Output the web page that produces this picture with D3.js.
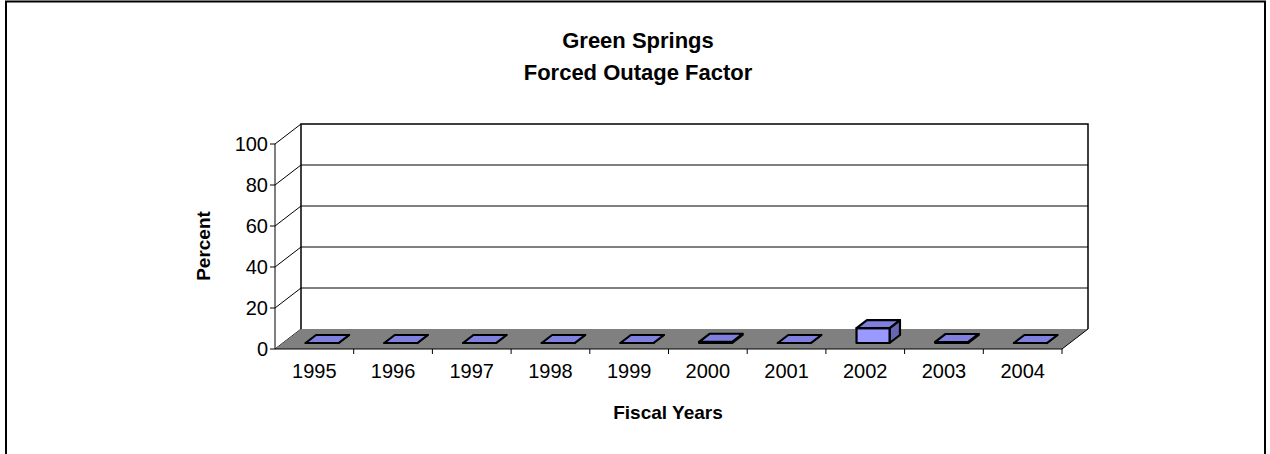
<!DOCTYPE html>
<html><head><meta charset="utf-8">
<script src="https://cdn.jsdelivr.net/npm/d3@7"></script>
<style>body{margin:0;background:#fff}svg{display:block;font-family:Arial,"Liberation Sans",sans-serif}</style>
</head><body>
<svg id="c" width="1270" height="454"></svg>
<script>
const titleLines = ["Green Springs", "Forced Outage Factor"];
const categories = ["1995","1996","1997","1998","1999","2000","2001","2002","2003","2004"];
const values = [0, 0, 0, 0, 0, 0.6, 0, 7.3, 0.5, 0];
const yTicks = [0, 20, 40, 60, 80, 100];
const yLabel = "Percent";
const xLabel = "Fiscal Years";

const svg = d3.select("#c");
const DX = 26, DY = -20; // depth offset
const x = d3.scaleBand().domain(categories).range([275, 1062]).paddingInner(0.58).paddingOuter(0.29);
const xEdge = d3.scaleLinear().domain([0, categories.length]).range([275, 1062]);
const y = d3.scaleLinear().domain([0, 100]).range([349, 144]);

// frame
svg.append("rect").attr("x", 6).attr("y", 1.5).attr("width", 1259).attr("height", 470)
  .attr("fill", "#fff").attr("stroke", "#000").attr("stroke-width", 2);

// title
svg.append("g").selectAll("text").data(titleLines).join("text")
  .attr("x", 638).attr("y", (d, i) => 48 + i * 32).attr("text-anchor", "middle")
  .attr("font-size", 22).attr("font-weight", "bold").text(d => d);

const x0 = xEdge(0), x1 = xEdge(categories.length);
// back wall
svg.append("rect").attr("x", x0 + DX).attr("y", y(100) + DY).attr("width", x1 - x0).attr("height", y(0) - y(100))
  .attr("fill", "#fff");
// gridlines on back wall
svg.append("g").selectAll("line").data(yTicks.filter(t => t > 0 && t < 100)).join("line")
  .attr("x1", x0 + DX).attr("x2", x1 + DX).attr("y1", d => y(d) + DY).attr("y2", d => y(d) + DY)
  .attr("stroke", "#000").attr("stroke-width", 1);
// back wall border
svg.append("path")
  .attr("d", `M${x0 + DX},${y(0) + DY}V${y(100) + DY}H${x1 + DX}V${y(0) + DY}`)
  .attr("fill", "none").attr("stroke", "#000").attr("stroke-width", 1.5);
// side wall diagonals
svg.append("g").selectAll("line").data(yTicks).join("line")
  .attr("x1", x0).attr("y1", d => y(d)).attr("x2", x0 + DX).attr("y2", d => y(d) + DY)
  .attr("stroke", "#000").attr("stroke-width", 1);

// floor
svg.append("path")
  .attr("d", `M${x0},${y(0)}L${x1},${y(0)}L${x1 + DX},${y(0) + DY}L${x0 + DX},${y(0) + DY}Z`)
  .attr("fill", "#808080").attr("stroke", "none");
svg.append("path")
  .attr("d", `M${x0},${y(0)}L${x1},${y(0)}L${x1 + DX},${y(0) + DY}`)
  .attr("fill", "none").attr("stroke", "#000").attr("stroke-width", 1);

// y axis
svg.append("line").attr("x1", x0).attr("x2", x0).attr("y1", y(0)).attr("y2", y(100)).attr("stroke", "#000");
const yg = svg.append("g");
yg.selectAll("line").data(yTicks).join("line")
  .attr("x1", x0 - 5).attr("x2", x0).attr("y1", d => y(d)).attr("y2", d => y(d)).attr("stroke", "#000");
yg.selectAll("text").data(yTicks).join("text")
  .attr("x", x0 - 7).attr("y", d => y(d)).attr("dy", "0.35em").attr("text-anchor", "end")
  .attr("font-size", 20).text(d => d);

// x ticks
svg.append("g").selectAll("line").data(d3.range(1, categories.length + 1)).join("line")
  .attr("x1", d => xEdge(d)).attr("x2", d => xEdge(d)).attr("y1", y(0)).attr("y2", y(0) + 5).attr("stroke", "#000");
svg.append("g").selectAll("text").data(categories).join("text")
  .attr("x", d => x(d) + x.bandwidth() / 2).attr("y", 371).attr("dy", "0.35em").attr("text-anchor", "middle")
  .attr("font-size", 20).text(d => d);

// bars
const f0 = 0.3, f1 = 0.7;
const bars = svg.append("g").attr("stroke", "#000").attr("stroke-width", 2.2).attr("stroke-linejoin", "round");
categories.forEach((c, i) => {
  const v = values[i];
  const bl = x(c) + DX * f0, br = bl + x.bandwidth();
  const by = y(0) + DY * f0, ty = y(v) + DY * f0;
  const ox = DX * (f1 - f0), oy = DY * (f1 - f0);
  const g = bars.append("g");
  g.append("path").attr("d", `M${br},${by}L${br + ox},${by + oy}L${br + ox},${ty + oy}L${br},${ty}Z`).attr("fill", "#6666b3");
  g.append("path").attr("d", `M${bl},${by}L${br},${by}L${br},${ty}L${bl},${ty}Z`).attr("fill", "#9999ff");
  g.append("path").attr("d", `M${bl},${ty}L${br},${ty}L${br + ox},${ty + oy}L${bl + ox},${ty + oy}Z`).attr("fill", "#7f7fdf");
});

// axis titles
svg.append("text").attr("transform", "translate(210,246) rotate(-90)").attr("text-anchor", "middle")
  .attr("font-size", 19).attr("font-weight", "bold").text(yLabel);
svg.append("text").attr("x", 668).attr("y", 412).attr("dy", "0.35em").attr("text-anchor", "middle")
  .attr("font-size", 19).attr("font-weight", "bold").text(xLabel);
</script>
</body></html>
